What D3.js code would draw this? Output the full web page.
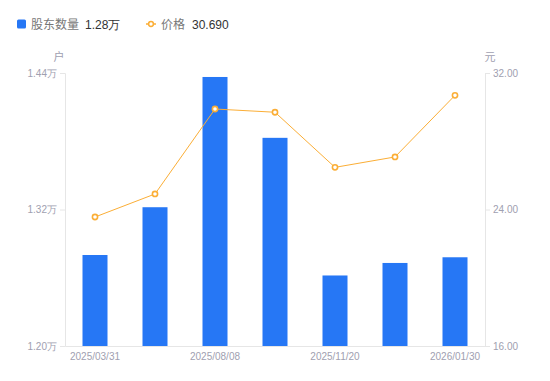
<!DOCTYPE html>
<html>
<head>
<meta charset="utf-8">
<script src="https://cdn.jsdelivr.net/npm/d3@7/dist/d3.min.js"></script>
<style>
  body { margin: 0; background: #fff; }
  text { font-family: "Noto Sans CJK SC", "Noto Sans", sans-serif; }
</style>
</head>
<body>
<div id="chart"></div>
<script>
// data
var dates = ["2025/03/31", "2025/06/30", "2025/08/08", "2025/09/30", "2025/11/20", "2025/12/31", "2026/01/30"];
var holders = [1.280, 1.322, 1.4365, 1.383, 1.262, 1.273, 1.278];
var prices = [23.56, 24.91, 29.89, 29.70, 26.47, 27.08, 30.69];
var leftTicks = [1.20, 1.32, 1.44];
var rightTicks = [16, 24, 32];

var svgWidth = 550;
var svgHeight = 381;
var margin = { top: 73, right: 65, bottom: 35, left: 65 };
var width = svgWidth - margin.left - margin.right;
var height = svgHeight - margin.top - margin.bottom;

var blue = "#2677f5";
var orange = "#fbae36";
var axisColor = "#e6e6e6";
var tickText = "#a0a0b0";
var numFont = "'Liberation Sans', Arial, sans-serif";

var svg = d3.select("#chart")
  .append("svg")
  .attr("width", svgWidth)
  .attr("height", svgHeight);

var chartGroup = svg.append("g")
  .attr("transform", `translate(${margin.left}, ${margin.top})`);

var xScale = d3.scaleBand()
  .domain(dates)
  .range([0, width]);

var yLeft = d3.scaleLinear().domain([1.20, 1.44]).range([height, 0]);
var yRight = d3.scaleLinear().domain([16, 32]).range([height, 0]);

// left axis
var leftAxis = d3.axisLeft(yLeft)
  .tickValues(leftTicks)
  .tickSize(5)
  .tickPadding(3)
  .tickFormat(d => d.toFixed(2) + "万");
var gl = chartGroup.append("g").call(leftAxis);

// right axis
var rightAxis = d3.axisRight(yRight)
  .tickValues(rightTicks)
  .tickSize(5)
  .tickPadding(3)
  .tickFormat(d => d.toFixed(2));
var gr = chartGroup.append("g")
  .attr("transform", `translate(${width}, 0)`)
  .call(rightAxis);

// bottom axis
var bottomAxis = d3.axisBottom(xScale)
  .tickValues(dates.filter((d, i) => i % 2 === 0))
  .tickSize(0)
  .tickPadding(7);
var gb = chartGroup.append("g")
  .attr("transform", `translate(0, ${height})`)
  .call(bottomAxis);

[gl, gr, gb].forEach(function(g) {
  g.select(".domain").attr("stroke", axisColor);
  g.selectAll(".tick line").attr("stroke", axisColor);
  g.selectAll(".tick text")
    .attr("fill", tickText)
    .style("font-family", numFont)
    .style("font-size", "10px");
});

// unit labels
chartGroup.append("text")
  .attr("x", -6)
  .attr("y", -12)
  .attr("text-anchor", "middle")
  .attr("fill", tickText)
  .style("font-size", "11px")
  .text("户");
chartGroup.append("text")
  .attr("x", width + 5)
  .attr("y", -12)
  .attr("text-anchor", "middle")
  .attr("fill", tickText)
  .style("font-size", "11px")
  .text("元");

// bars
var barW = 25;
chartGroup.selectAll(".bar")
  .data(holders)
  .enter()
  .append("rect")
  .attr("class", "bar")
  .attr("x", (d, i) => xScale(dates[i]) + xScale.bandwidth() / 2 - barW / 2)
  .attr("y", d => yLeft(d))
  .attr("width", barW)
  .attr("height", d => height - yLeft(d))
  .attr("fill", blue);

// price line
var line = d3.line()
  .x((d, i) => xScale(dates[i]) + xScale.bandwidth() / 2)
  .y(d => yRight(d));

chartGroup.append("path")
  .datum(prices)
  .attr("d", line)
  .attr("fill", "none")
  .attr("stroke", orange)
  .attr("stroke-width", 1);

chartGroup.selectAll(".pt")
  .data(prices)
  .enter()
  .append("circle")
  .attr("class", "pt")
  .attr("cx", (d, i) => xScale(dates[i]) + xScale.bandwidth() / 2)
  .attr("cy", d => yRight(d))
  .attr("r", 2.6)
  .attr("fill", "#fff")
  .attr("stroke", orange)
  .attr("stroke-width", 1.6);

// legend
var legend = svg.append("g").attr("transform", "translate(0, 24)");
legend.append("rect")
  .attr("x", 17).attr("y", -4.5)
  .attr("width", 9).attr("height", 9)
  .attr("rx", 1.5)
  .attr("fill", blue);
legend.append("text")
  .attr("x", 31).attr("y", 4.5)
  .attr("fill", "#777")
  .style("font-size", "12px")
  .text("股东数量");
legend.append("text")
  .attr("x", 85).attr("y", 4.5)
  .attr("fill", "#333")
  .style("font-size", "12px")
  .style("font-family", numFont)
  .text(holders[holders.length - 1].toFixed(2) + "万");

legend.append("line")
  .attr("x1", 146).attr("x2", 156)
  .attr("y1", 0).attr("y2", 0)
  .attr("stroke", orange)
  .attr("stroke-width", 1.5);
legend.append("circle")
  .attr("cx", 151).attr("cy", 0)
  .attr("r", 2.4)
  .attr("fill", "#fff")
  .attr("stroke", orange)
  .attr("stroke-width", 1.5);
legend.append("text")
  .attr("x", 161).attr("y", 4.5)
  .attr("fill", "#777")
  .style("font-size", "12px")
  .text("价格");
legend.append("text")
  .attr("x", 192).attr("y", 4.5)
  .attr("fill", "#333")
  .style("font-size", "12px")
  .style("font-family", numFont)
  .text(prices[prices.length - 1].toFixed(3));
</script>
</body>
</html>
